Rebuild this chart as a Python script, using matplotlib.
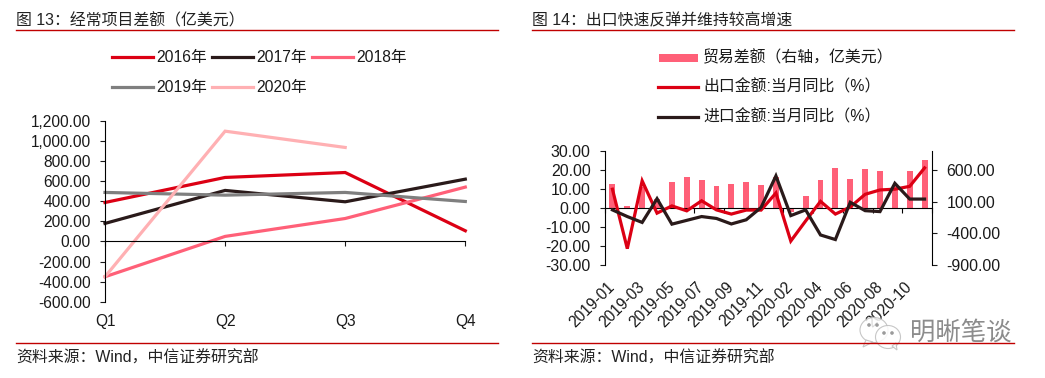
#!/usr/bin/env python3
"""Two panel macro chart: current account by quarter, trade balance and export/import growth."""
import numpy as np
import matplotlib
matplotlib.use("Agg")
import matplotlib.pyplot as plt
from matplotlib.lines import Line2D
from matplotlib.patches import Ellipse, Polygon, Rectangle

plt.rcParams["font.family"] = ["Liberation Sans", "Noto Sans CJK SC"]
plt.rcParams["axes.unicode_minus"] = False

W, H = 1045, 378
RED, BLACK, PINK, GRAY, LIGHT = "#DC0014", "#2A1A1A", "#FF6078", "#7F7F7F", "#FFB0B3"
INK = "#1A1A1A"

quarters = ["Q1", "Q2", "Q3", "Q4"]
ca_2016 = [387, 636, 685, 106]
ca_2017 = [179, 507, 394, 619]
ca_2018 = [-351, 50, 228, 540]
ca_2019 = [487, 460, 487, 397]
ca_2020 = [-351, 1096, 934]
left_ticks = [-600, -400, -200, 0, 200, 400, 600, 800, 1000, 1200]

months = ["2019-01", "2019-02", "2019-03", "2019-04", "2019-05", "2019-06", "2019-07", "2019-08",
          "2019-09", "2019-10", "2019-11", "2019-12", "2020-02", "2020-03", "2020-04", "2020-05",
          "2020-06", "2020-07", "2020-08", "2020-09", "2020-10", "2020-11"]
trade = [385, 35, 330, 135, 415, 495, 447, 352, 385, 415, 368, 485,
         -65, 195, 447, 637, 463, 620, 590, 370, 590, 763]
exports = [9.9, -21.4, 14.3, -2.7, 1.1, -1.5, 3.8, -1.0, -3.2, -1.1, -1.1, 7.9,
           -17.4, -6.8, 3.5, -3.2, 0.5, 7.2, 9.5, 9.9, 11.4, 21.1]
imports = [-1.0, -4.5, -7.6, 4.9, -8.5, -6.5, -4.5, -5.5, -8.4, -6.2, 0.3, 16.9,
           -4.0, -1.0, -14.2, -16.6, 3.0, -1.4, -1.9, 13.0, 4.7, 4.7]
growth_ticks = [-30, -20, -10, 0, 10, 20, 30]
trade_ticks = [-900, -400, 100, 600]


def px_axes(fig, left, top, right, bottom, **kw):
    return fig.add_axes([left / W, 1 - bottom / H, (right - left) / W, (bottom - top) / H], **kw)


fig = plt.figure(figsize=(W / 100, H / 100), dpi=100, facecolor="white")

# left panel
ax = px_axes(fig, 105, 120.7, 465.3, 301.8)
ax.set_facecolor("none")
for vals, c in [(ca_2016, RED), (ca_2017, BLACK), (ca_2018, PINK), (ca_2019, GRAY), (ca_2020, LIGHT)]:
    ax.plot(range(len(vals)), vals, color=c, lw=2.3, solid_joinstyle="miter", clip_on=False)
ax.set_xlim(0, 3)
ax.set_ylim(-600, 1200)
ax.set_yticks(left_ticks, [f"{v:,.2f}" for v in left_ticks])
ax.set_xticks(range(4), quarters)
ax.spines[["top", "right"]].set_visible(False)
ax.spines["bottom"].set_position(("data", 0))
ax.tick_params(axis="y", length=3.8, width=0.8, pad=6.5, labelsize=11.2, colors=INK)
ax.tick_params(axis="x", length=3.6, width=0.8, pad=49, labelsize=11.2, colors=INK)

# right panel: bars on the right axis, lines on top
ax_r = px_axes(fig, 605, 151, 932, 265)
ax_l = ax_r.twinx()
x = np.arange(len(months))
ax_r.bar(x, trade, width=0.4, color=PINK)
ax_r.set_ylim(-900, 900)
ax_l.set_ylim(-30, 30)
ax_l.plot(x, exports, color=RED, lw=2.3, solid_joinstyle="miter", zorder=3)
ax_l.plot(x, imports, color=BLACK, lw=2.3, solid_joinstyle="miter", zorder=4)
ax_r.set_xlim(-0.5, 21.5)

# ax_r sits on the left in twinx terms, so swap sides
ax_r.yaxis.tick_right()
ax_l.yaxis.tick_left()
ax_r.set_yticks(trade_ticks, [f"{v:.2f}" for v in trade_ticks])
ax_l.set_yticks(growth_ticks, [f"{v:.2f}" for v in growth_ticks])
ax_r.tick_params(axis="y", length=3.8, width=0.8, pad=6.5, labelsize=11.4, colors=INK)
ax_l.tick_params(axis="y", length=3.8, width=0.8, pad=6.5, labelsize=11.4, colors=INK)
for a in (ax_r, ax_l):
    a.spines["top"].set_visible(False)
ax_r.spines[["left", "right"]].set_visible(False)
ax_l.spines["right"].set_visible(True)
ax_l.spines["left"].set_visible(True)
ax_l.spines["bottom"].set_visible(False)
ax_r.spines["bottom"].set_position(("data", 0))

ax_r.set_xticks(x[::2], months[::2])
ax_r.set_xticks(np.arange(-0.5, 22, 2), minor=True)
ax_r.tick_params(axis="x", which="major", length=0, pad=55, labelsize=11.2, colors=INK)
ax_r.tick_params(axis="x", which="minor", length=3.6, width=0.8)
for lab in ax_r.get_xticklabels():
    lab.set(rotation=45, ha="right", va="center", rotation_mode="anchor")
ax_l.tick_params(axis="x", bottom=False, labelbottom=False)

# overlay in pixel coordinates: titles, rules, legends, source notes, watermark
ov = fig.add_axes([0, 0, 1, 1], zorder=10)
ov.set_xlim(0, W)
ov.set_ylim(H, 0)
ov.axis("off")
ov.patch.set_alpha(0)

for x0, title in [(17, "图 13：经常项目差额（亿美元）"), (533, "图 14：出口快速反弹并维持较高增速")]:
    ov.text(x0 - 1, 20.5, title, fontsize=11.45, va="center", color="#222222")
    ov.add_line(Line2D([x0 - 1, x0 + 481], [30, 30], color="#C00000", lw=1))
    ov.add_line(Line2D([x0 - 1, x0 + 481], [343, 343], color="#C00000", lw=1))
    ov.text(x0 - 1, 358, "资料来源：Wind，中信证券研究部", fontsize=11.45, va="center", color="#222222")

legend_left = [(112, 57, RED, "2016年"), (212, 57, BLACK, "2017年"), (312, 57, PINK, "2018年"),
               (112, 87, GRAY, "2019年"), (212, 87, LIGHT, "2020年")]
for x0, y0, c, name in legend_left:
    ov.add_line(Line2D([x0, x0 + 41], [y0, y0], color=c, lw=2.3))
    ov.text(x0 + 44, y0 + 0.5, name, fontsize=11.3, va="center", color=INK)

ov.add_patch(Rectangle((659, 54), 39, 8, color=PINK, lw=0))
ov.text(703, 58, "贸易差额（右轴，亿美元）", fontsize=11.45, va="center", color=INK)
for y0, c, name in [(87, RED, "出口金额:当月同比（%）"), (117, BLACK, "进口金额:当月同比（%）")]:
    ov.add_line(Line2D([658, 698], [y0, y0], color=c, lw=2.3))
    ov.text(703, y0, name, fontsize=11.45, va="center", color=INK)

# watermark
bubble = dict(facecolor="white", edgecolor="#BDBDBD", lw=0.8, alpha=0.85)
ov.add_patch(Ellipse((874, 330), 28, 25, **bubble))
ov.add_patch(Polygon([(866, 340), (863, 347), (873, 342)], closed=True, **bubble))
ov.add_patch(Ellipse((888, 337), 25, 23, **bubble))
ov.add_patch(Polygon([(892, 346), (897, 350), (896, 343)], closed=True, **bubble))
for ex, ey in [(869, 325), (877, 325), (884, 333), (892, 333)]:
    ov.add_patch(Ellipse((ex, ey), 2.2, 2.2, color="#9A9A9A"))
ov.text(910, 333, "明晰笔谈", fontsize=18.3, va="center", color="#8C8C8C")

fig.savefig("out.png", dpi=100)
